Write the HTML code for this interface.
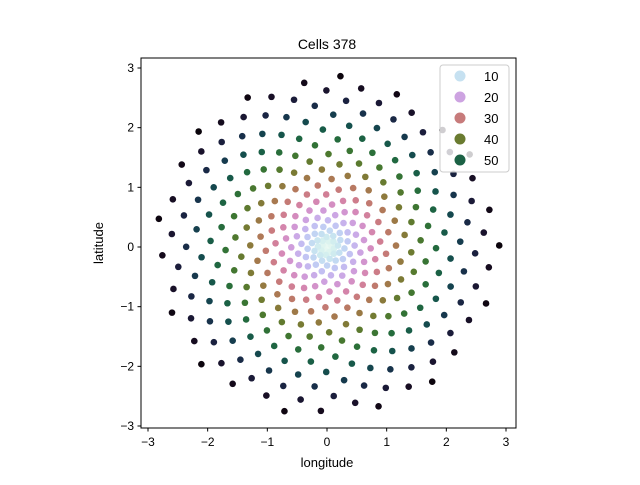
<!DOCTYPE html>
<html><head><meta charset="utf-8"><style>
body{margin:0;background:#fff;font-family:"Liberation Sans",sans-serif;}
svg text{font-family:"Liberation Sans",sans-serif;fill:#000;}
</style></head><body>
<svg id="chart" width="640" height="480" xmlns="http://www.w3.org/2000/svg">
<rect width="640" height="480" fill="#fff"/>
<text x="327" y="49" font-size="14" text-anchor="middle">Cells 378</text>
<g id="pts"></g>
<rect x="141" y="58" width="375" height="370" fill="none" stroke="#000" stroke-width="1"/>
<g id="ticks"></g>
<text x="327" y="467" font-size="13" text-anchor="middle">longitude</text>
<text x="103" y="243" font-size="13" text-anchor="middle" transform="rotate(-90 103 243)">latitude</text>
<g id="legend"></g>
</svg>
<script>
const cellCount = 378;
const goldenAngleDeg = 137.508;
const radiusScale = 0.0103;
const radiusExponent = 0.95;
const colorScale = 0.815;
const colorExponent = 0.72;
const colorMax = 60;
const legendColorMax = 70;
const xTicks = [-3,-2,-1,0,1,2,3];
const yTicks = [-3,-2,-1,0,1,2,3];
const legendValues = [10,20,30,40,50];

const NS="http://www.w3.org/2000/svg";
const cx=327, cy=247, k=59.67;
const X=v=>cx+v*k, Y=v=>cy-v*k;
function cube(x){
  const a=x*(1-x)/2, phi=2*Math.PI*(0.5/3-1.5*x);
  const c=Math.cos(phi), s=Math.sin(phi);
  const r=x+a*(-0.14861*c+1.78277*s), g=x+a*(-0.29227*c-0.90649*s), b=x+a*(1.97294*c);
  const f=v=>Math.round(255*Math.max(0,Math.min(1,v)));
  return `rgb(${f(r)},${f(g)},${f(b)})`;
}
const colorOf=(v,m)=>cube(1-Math.min(1,v/m));
const pts=document.getElementById('pts');
for(let n=1;n<=cellCount;n++){
  const r=radiusScale*Math.pow(n,radiusExponent), th=n*goldenAngleDeg*Math.PI/180;
  const c=document.createElementNS(NS,'circle');
  
  
  c.setAttribute('cx',X(r*Math.cos(th)));c.setAttribute('cy',Y(r*Math.sin(th)));
  c.setAttribute('r',3.3);c.setAttribute('fill',colorOf(colorScale*Math.pow(n,colorExponent),colorMax));
  pts.appendChild(c);
}
const tk=document.getElementById('ticks');
function add(tag,attrs,txt){const e=document.createElementNS(NS,tag);for(const a in attrs)e.setAttribute(a,attrs[a]);if(txt!==undefined)e.textContent=txt;return e;}
xTicks.forEach(v=>{
  const l=add('line',{x1:X(v),x2:X(v),y1:428,y2:431.5,stroke:'#000'});
  
  
  tk.appendChild(l);
  const t=add('text',{x:X(v),y:446,'font-size':12,'text-anchor':'middle'},v<0?'\u2212'+(-v):String(v));
  
  
  tk.appendChild(t);
});
yTicks.forEach(v=>{
  const l=add('line',{x1:137.5,x2:141,y1:Y(v),y2:Y(v),stroke:'#000'});
  
  
  tk.appendChild(l);
  const t=add('text',{x:134,y:Y(v)+4,'font-size':12,'text-anchor':'end'},v<0?'\u2212'+(-v):String(v));
  
  
  tk.appendChild(t);
});
const lg=document.getElementById('legend');
const box=add('rect',{x:440,y:65,width:69,height:107,rx:3,fill:'#fff','fill-opacity':0.8,stroke:'#ccc'});


lg.appendChild(box);
legendValues.forEach((v,i)=>{
  const y=76+i*21;
  const c=add('circle',{cx:460,cy:y,r:5.5,fill:colorOf(v,legendColorMax)});
  
  
  lg.appendChild(c);
  const t=add('text',{x:484,y:y+5,'font-size':13},String(v));
  
  
  lg.appendChild(t);
});
</script>
</body></html>
